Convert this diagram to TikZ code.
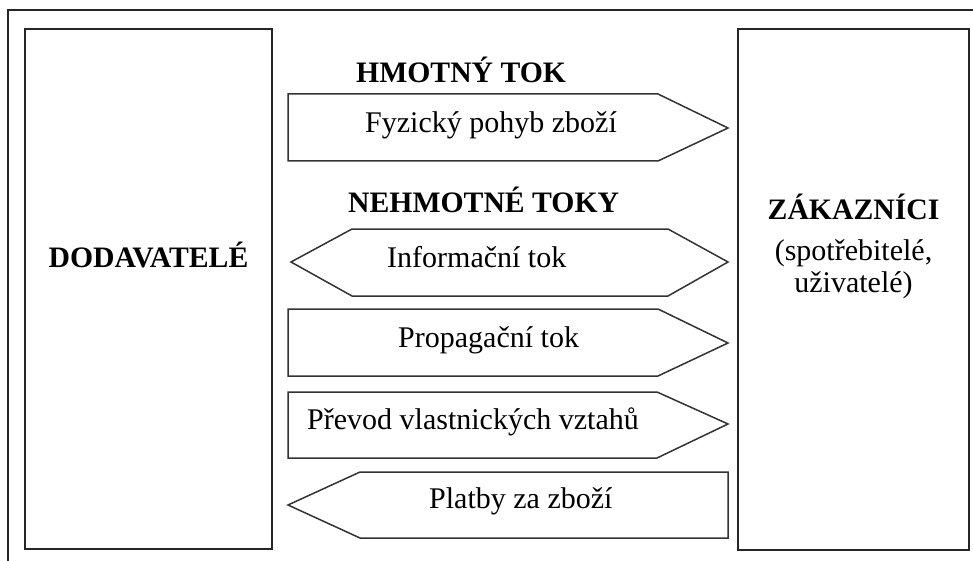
\documentclass[tikz,border=0pt]{standalone}
\usepackage{fontspec}
\setmainfont{Liberation Serif}
\begin{document}
\begin{tikzpicture}[x=1pt,y=-1pt,
  frame/.style={draw=black!85,line width=1.6pt,line join=miter},
  flow/.style={draw=black!80,line width=1.5pt,fill=white,line join=miter},
  lbl/.style={inner sep=0pt,anchor=base west,font=\fontsize{30}{36}\selectfont},
  head/.style={inner sep=0pt,anchor=base west,font=\fontsize{29.7}{36}\selectfont\bfseries},
  boxtxt/.style={inner sep=0pt,anchor=base,font=\fontsize{30}{36}\selectfont}]
\useasboundingbox (0,0) rectangle (973,561);
\clip (0,0) rectangle (973,561);
% outer frame (cropped at right and bottom)
\draw[frame] (8,10) rectangle (995,585);
% side boxes
\draw[frame] (25,29) rectangle (272,549);
\draw[frame] (738,29) rectangle (969,550);
\node[boxtxt,font=\fontsize{29.7}{36}\selectfont\bfseries] (dod) at (148.5,267) {DODAVATELÉ};
\node[boxtxt,font=\fontsize{29.7}{36}\selectfont\bfseries] (zak) at (853.5,219) {ZÁKAZNÍCI};
\node[boxtxt] (spo) at (853.5,260) {(spotřebitelé,};
\node[boxtxt] (uzi) at (853.5,292) {uživatelé)};
% flows
\draw[flow] (288,94) -- (658,94) -- (728,128) -- (658,161) -- (288,161) -- cycle;
\draw[flow] (352,229) -- (668,229) -- (728,262) -- (668,296) -- (352,296) -- (291,262) -- cycle;
\draw[flow] (288,309) -- (658,309) -- (728,343) -- (658,376) -- (288,376) -- cycle;
\draw[flow] (288,392) -- (657,392) -- (728,424) -- (657,458) -- (288,458) -- cycle;
\draw[flow] (360,472) -- (728,472) -- (728,538) -- (360,538) -- (288,505) -- cycle;
% texts
\node[head] (hm) at (356,83) {HMOTNÝ TOK};
\node[head] (nh) at (348,213) {NEHMOTNÉ TOKY};
\node[lbl] (f1) at (365,133) {Fyzický pohyb zboží};
\node[lbl] (f2) at (387,267) {Informační tok};
\node[lbl] (f3) at (398,347) {Propagační tok};
\node[lbl] (f4) at (307,429) {Převod vlastnických vztahů};
\node[lbl] (f5) at (429,508) {Platby za zboží};
\end{tikzpicture}
\end{document}
